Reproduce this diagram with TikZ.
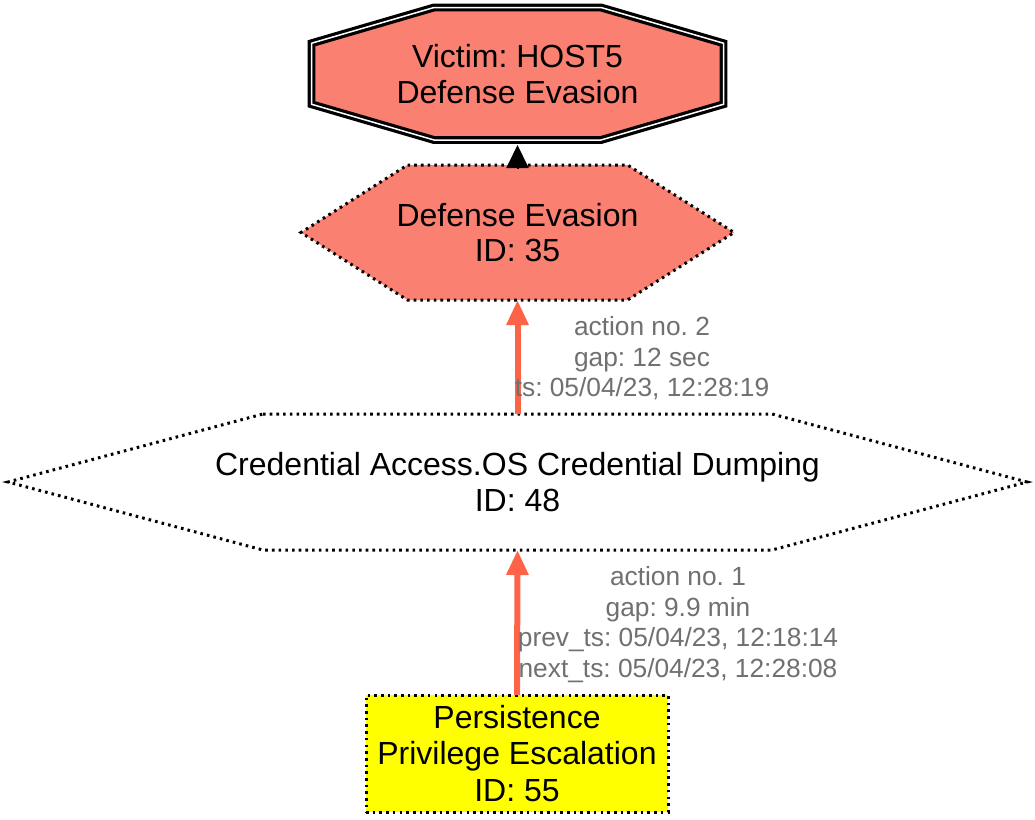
\documentclass[tikz,border=0pt]{standalone}
\usepackage{fontspec}
\setmainfont{Liberation Sans}
\usetikzlibrary{arrows.meta,calc,backgrounds}
\definecolor{salmonc}{HTML}{FA8072}
\definecolor{tomatoc}{HTML}{FF6347}
\definecolor{labgray}{HTML}{707070}
\definecolor{yellowc}{HTML}{FFFF00}
\newcommand\mainstrut{\rule[-6.25pt]{0pt}{35.5pt}}
\newcommand\labstrut{\rule[-5.85pt]{0pt}{30.5pt}}
\begin{document}
\frenchspacing
\begin{tikzpicture}[x=1pt,y=-1pt,
  shapebox/.style={inner sep=0pt, outer sep=0pt},
  maintext/.style={align=center, font=\fontsize{32}{35.5}\selectfont\frenchspacing},
  elabel/.style={inner sep=0pt, align=center, text=labgray, font=\fontsize{26.3}{30.5}\selectfont\frenchspacing},
  dotline/.style={draw=black, line width=3pt, dash pattern=on 2.6pt off 4.1pt},
  octstyle/.style={fill=salmonc, draw=black, line width=3.2pt, double=white, double distance=1.5pt, line join=miter},
  redarrow/.style={draw=tomatoc, line width=6pt, -{Triangle[length=25pt,width=21pt]}},
  blackarrow/.style={draw=black, line width=2pt, -{Triangle[length=23pt,width=22pt]}},
]
\useasboundingbox (0,0) rectangle (1035,819);
% nodes
\node[shapebox, maintext, minimum width=412pt, minimum height=132.5pt] (oct) at (517.5,73.75)
  {\mainstrut Victim: HOST5\\\mainstrut Defense Evasion};
\node[shapebox, maintext, minimum width=220pt, minimum height=135pt] (h1) at (517.5,232.5)
  {\mainstrut Defense Evasion\\\mainstrut ID: 35};
\node[shapebox, maintext, minimum width=509pt, minimum height=136pt] (h2) at (517.5,482)
  {\mainstrut Credential Access.OS Credential Dumping\\\mainstrut ID: 48};
\node[shapebox, maintext, dotline, fill=yellowc, minimum width=302pt, minimum height=117pt] (box) at (517,753.5)
  {\mainstrut Persistence\\\mainstrut Privilege Escalation\\\mainstrut ID: 55};
% shapes behind the texts
\begin{scope}[on background layer]
\fill[white] (0,0) rectangle (1035,819);
\path[octstyle] ($(oct)+(-83.5,-66.25)$) -- ($(oct)+(83.5,-66.25)$) -- ($(oct)+(206,-30.5)$)
  -- ($(oct)+(206,30.5)$) -- ($(oct)+(83.5,66.25)$) -- ($(oct)+(-83.5,66.25)$)
  -- ($(oct)+(-206,30.5)$) -- ($(oct)+(-206,-30.5)$) -- cycle;
\path[fill=salmonc, dotline] ($(h1)+(-110,-67.5)$) -- ($(h1)+(110,-67.5)$) -- ($(h1)+(216.5,0)$)
  -- ($(h1)+(110,67.5)$) -- ($(h1)+(-110,67.5)$) -- ($(h1)+(-216.5,0)$) -- cycle;
\path[fill=white, dotline] ($(h2)+(-254.5,-68)$) -- ($(h2)+(254.5,-68)$) -- ($(h2)+(509.5,0)$)
  -- ($(h2)+(254.5,68)$) -- ($(h2)+(-254.5,68)$) -- ($(h2)+(-509.5,0)$) -- cycle;
\end{scope}
% connectors
\draw[redarrow] (box.north) -- (h2.south);
\draw[redarrow] (h2.north) -- (h1.south);
\draw[blackarrow] ($(h1.north)+(0,4)$) -- ($(oct.south)+(0,5)$);
% edge labels
\node[elabel] (lab1) at (642,357)
  {\labstrut action no. 2\\\labstrut gap: 12 sec\\\labstrut ts: 05/04/23, 12:28:19};
\node[elabel] (lab2) at (678,622)
  {\labstrut action no. 1\\\labstrut gap: 9.9 min\\\labstrut prev\_ts: 05/04/23, 12:18:14\\\labstrut next\_ts: 05/04/23, 12:28:08};
\end{tikzpicture}
\end{document}
